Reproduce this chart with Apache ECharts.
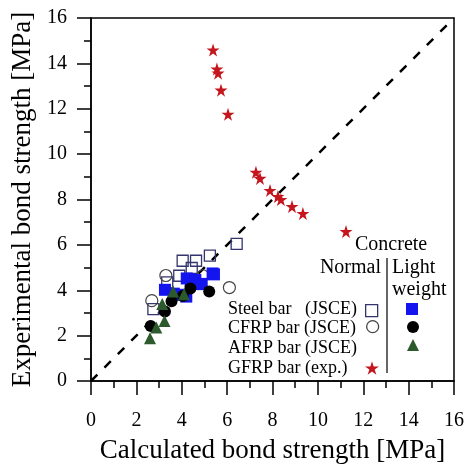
<!DOCTYPE html>
<html>
<head>
<meta charset="utf-8">
<script src="https://cdn.jsdelivr.net/npm/echarts@6/dist/echarts.min.js"></script>
<style>
html, body { margin: 0; padding: 0; background: #fff; }
#chart { width: 466px; height: 466px; }
</style>
</head>
<body>
<div id="chart"></div>
<script>
// axis ticks
var tickValues = [0, 2, 4, 6, 8, 10, 12, 14, 16];

// [calculated, experimental] in MPa
var steelNormal = [[2.75, 3.17], [3.36, 4.35], [3.89, 4.64], [4.04, 5.30], [4.44, 4.98], [4.63, 5.30], [5.24, 5.53], [6.42, 6.04]];
var cfrpNormal = [[2.68, 3.54], [3.30, 4.65], [4.93, 4.64], [6.10, 4.12]];
var steelLight = [[3.26, 4.02], [3.65, 3.85], [3.85, 3.80], [4.20, 3.72], [4.22, 4.52], [4.40, 4.48], [4.60, 4.45], [4.70, 4.27], [4.88, 4.28], [5.36, 4.74], [5.42, 4.70]];
var cfrpLight = [[2.63, 2.42], [3.26, 3.06], [3.55, 3.52], [4.05, 3.75], [4.38, 4.08], [5.21, 3.95]];
var afrpLight = [[2.60, 1.88], [2.88, 2.36], [3.24, 2.65], [3.14, 3.39], [3.62, 3.95], [4.10, 3.82]];
var gfrpExp = [[5.38, 14.59], [5.55, 13.75], [5.60, 13.57], [5.73, 12.82], [6.04, 11.76], [7.27, 9.20], [7.45, 8.93], [7.89, 8.40], [8.24, 8.13], [8.37, 8.00], [8.86, 7.69], [9.34, 7.38], [11.24, 6.59]];
var equalityLine = [[0, 0], [16, 16]];

var chart = echarts.init(document.getElementById('chart'));
var serif = 'Liberation Serif, Times New Roman, serif';
var starPath = 'path://M50 0 L61.23 34.55 L97.55 34.55 L68.16 55.9 L79.39 90.45 L50 69.1 L20.61 90.45 L31.84 55.9 L2.45 34.55 L38.77 34.55 Z';

function axis(name, gap, labelMargin) {
	return {
		type: 'value',
		min: 0,
		max: 16,
		interval: 2,
		name: name,
		nameLocation: 'middle',
		nameGap: gap,
		nameTextStyle: { fontFamily: serif, fontSize: 27, color: '#000' },
		axisLine: { lineStyle: { color: '#000', width: 1.5 } },
		axisTick: { inside: false, length: 14, lineStyle: { color: '#000', width: 1.5 } },
		minorTick: { show: true, splitNumber: 2, length: 7, lineStyle: { color: '#000', width: 1.5 } },
		axisLabel: {
			fontFamily: serif, fontSize: 20, color: '#000', margin: labelMargin,
			formatter: function (v) { return tickValues.indexOf(v) >= 0 ? String(v) : ''; }
		},
		splitLine: { show: false }
	};
}

function legendAt(name, x, y, size) {
	size = size || 12;
	return {
		data: [name],
		left: x - size / 2,
		top: y - size / 2,
		padding: 0,
		itemWidth: size,
		itemHeight: size,
		itemGap: 0,
		itemStyle: { borderWidth: 1.3 },
		formatter: function () { return ''; },
		selectedMode: false
	};
}

function label(text, x, y, size, align) {
	return {
		type: 'text',
		left: align === 'right' ? null : x,
		right: align === 'right' ? 466 - x : null,
		top: y - size * 0.6 + 3,
		style: { text: text, font: size + 'px ' + serif, fill: '#000' }
	};
}

var option = {
	animation: false,
	grid: {
		left: 91, right: 12, top: 18, bottom: 85,
		outerBoundsMode: 'none', containLabel: false,
		show: true, borderColor: '#000', borderWidth: 1.5
	},
	xAxis: axis('Calculated bond strength [MPa]', 56, 30),
	yAxis: axis('Experimental bond strength [MPa]', 39, 24),
	legend: [
		legendAt('Steel normal', 371, 310),
		legendAt('CFRP normal', 372, 326),
		legendAt('GFRP exp', 372, 368, 14),
		legendAt('Steel light', 412, 309),
		legendAt('CFRP light', 413, 327),
		legendAt('AFRP light', 413, 345)
	],
	graphic: [
		label('Concrete', 355, 244, 20),
		label('Normal', 381, 267, 20, 'right'),
		label('Light', 392, 267, 20),
		label('weight', 392, 289, 20),
		label('Steel bar   (JSCE)', 228, 308, 18),
		label('CFRP bar (JSCE)', 228, 327, 18),
		label('AFRP bar (JSCE)', 228, 347, 18),
		label('GFRP bar (exp.)', 228, 367, 18),
		{
			type: 'line',
			shape: { x1: 387, y1: 258, x2: 387, y2: 373 },
			style: { stroke: '#000', lineWidth: 1.2 }
		}
	],
	series: [
		{
			name: 'equality',
			type: 'line',
			data: equalityLine,
			symbol: 'none',
			silent: true,
			lineStyle: { color: '#000', width: 2.5, type: [9, 10] },
			z: 1
		},
		{
			name: 'Steel normal',
			type: 'scatter',
			data: steelNormal,
			symbol: 'rect',
			symbolSize: 11,
			itemStyle: { color: 'rgba(255,255,255,0)', borderColor: '#34346e', borderWidth: 1.3, opacity: 1 }
		},
		{
			name: 'CFRP normal',
			type: 'scatter',
			data: cfrpNormal,
			symbol: 'circle',
			symbolSize: 12,
			itemStyle: { color: 'rgba(255,255,255,0)', borderColor: '#444', borderWidth: 1.2, opacity: 1 }
		},
		{
			name: 'Steel light',
			type: 'scatter',
			data: steelLight,
			symbol: 'rect',
			symbolSize: 12,
			itemStyle: { color: '#1414ee', opacity: 1 }
		},
		{
			name: 'CFRP light',
			type: 'scatter',
			data: cfrpLight,
			symbol: 'circle',
			symbolSize: 12,
			itemStyle: { color: '#000', opacity: 1 }
		},
		{
			name: 'AFRP light',
			type: 'scatter',
			data: afrpLight,
			symbol: 'triangle',
			symbolSize: 12,
			itemStyle: { color: '#2c5a2c', opacity: 1 }
		},
		{
			name: 'GFRP exp',
			type: 'scatter',
			data: gfrpExp,
			symbol: starPath,
			symbolSize: 13,
			itemStyle: { color: '#c4161c', opacity: 1 }
		}
	]
};

chart.setOption(option);
</script>
</body>
</html>
